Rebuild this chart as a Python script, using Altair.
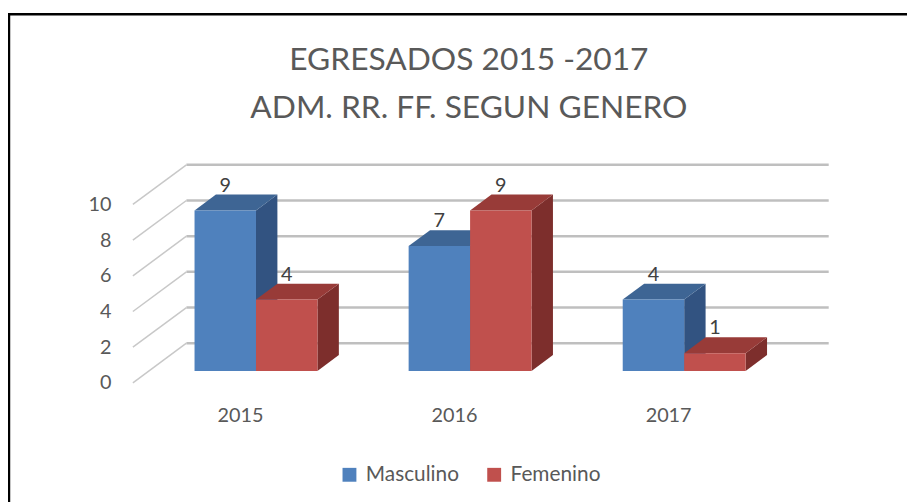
import altair as alt
import pandas as pd

# ---- data ----
years = ["2015", "2016", "2017"]
series = ["Masculino", "Femenino"]
masculino = [9, 7, 4]
femenino = [4, 9, 1]
y_ticks = [0, 2, 4, 6, 8, 10]
title_lines = ["EGRESADOS 2015 -2017", "ADM. RR. FF. SEGUN GENERO"]

# ---- geometry of the pseudo-3D projection (styling, not data) ----
PX = 216.0      # pixels per category
PY = 18.0       # pixels per value unit
SKEW = 1.35     # horizontal px per vertical px of depth
FLOOR_D = 40    # floor depth (vertical px)
BAR_F = 12      # bar front plane depth
BAR_D = 16      # bar depth
BAR_W = 62 / PX

def ddx(p):
    return p * SKEW / PX

def ddy(p):
    return p / PY

X_DOM = [-0.5, 2.5 + ddx(FLOOR_D)]
Y_DOM = [0, 10 + ddy(FLOOR_D)]
W = round((X_DOM[1] - X_DOM[0]) * PX)
H = round((Y_DOM[1] - Y_DOM[0]) * PY)

front, top, side, labels = [], [], [], []
for s_idx, (sname, vals) in enumerate(zip(series, [masculino, femenino])):
    for i, (yr, v) in enumerate(zip(years, vals)):
        xs = i + ddx(BAR_F) + (-BAR_W if s_idx == 0 else 0)
        xe = xs + BAR_W
        y0 = ddy(BAR_F)
        y1 = v + ddy(BAR_F)
        key = f"{sname}-{yr}"
        front.append(dict(serie=sname, year=yr, x=xs, x2=xe, y=y0, y2=y1))
        top.append(dict(serie=sname, key=key, y=y1, x=xs, x2=xe))
        top.append(dict(serie=sname, key=key, y=y1 + ddy(BAR_D),
                        x=xs + ddx(BAR_D), x2=xe + ddx(BAR_D)))
        side.append(dict(serie=sname, key=key, x=xe, y=y0, y2=y1))
        side.append(dict(serie=sname, key=key, x=xe + ddx(BAR_D),
                         y=y0 + ddy(BAR_D), y2=y1 + ddy(BAR_D)))
        labels.append(dict(serie=sname, x=(xs + xe) / 2, y=y1 + ddy(BAR_D), v=v))

front_df = pd.DataFrame(front)
top_df = pd.DataFrame(top)
side_df = pd.DataFrame(side)
lab_df = pd.DataFrame(labels)

grid_df = pd.DataFrame([dict(x=-0.5 + ddx(FLOOR_D), x2=2.5 + ddx(FLOOR_D),
                             y=t + ddy(FLOOR_D)) for t in y_ticks])
diag_df = pd.DataFrame([dict(x=-0.5, x2=-0.5 + ddx(FLOOR_D), y=t,
                             y2=t + ddy(FLOOR_D)) for t in y_ticks])

FRONT_COL = ["#4F81BD", "#C0504D"]
TOP_COL = ["#3E6594", "#983B38"]
SIDE_COL = ["#325381", "#7D2E2C"]
TEXT_COL = "#595959"
FONT = "Lato"

xs_scale = alt.Scale(domain=X_DOM, nice=False, zero=False)
ys_scale = alt.Scale(domain=Y_DOM, nice=False, zero=False)

year_expr = "[" + ",".join(f"'{y}'" for y in years) + "][datum.value]"

x_axis = alt.Axis(values=[0, 1, 2], labelExpr=year_expr, title=None,
                  domain=False, ticks=False, grid=False,
                  labelFontSize=20, labelColor=TEXT_COL,
                  labelFont=FONT, labelPadding=23)
y_axis = alt.Axis(values=y_ticks, title=None, domain=False,
                  ticks=False, grid=False, labelFontSize=20,
                  labelColor=TEXT_COL, labelFont=FONT, labelPadding=22)

FRAME_TOP = -152

frame = alt.Chart(pd.DataFrame({"a": [0]})).mark_rect(
    fill="white", fillOpacity=0, stroke="black", strokeWidth=2.5
).encode(x=alt.value(-125), x2=alt.value(W + 200),
         y=alt.value(FRAME_TOP), y2=alt.value(H + 300))

grid = alt.Chart(grid_df).mark_rule(color="#BFBFBF", strokeWidth=2.5).encode(
    x=alt.X("x:Q", scale=xs_scale, axis=x_axis),
    x2="x2:Q",
    y=alt.Y("y:Q", scale=ys_scale, axis=y_axis),
)
diag = alt.Chart(diag_df).mark_rule(color="#C8C8C8", strokeWidth=1.5).encode(
    x=alt.X("x:Q", scale=xs_scale, axis=x_axis),
    x2="x2:Q",
    y=alt.Y("y:Q", scale=ys_scale, axis=y_axis),
    y2="y2:Q",
)

layers = [frame, grid, diag]
for s_idx, sname in enumerate(series):
    sd = side_df[side_df.serie == sname]
    td = top_df[top_df.serie == sname]
    fd = front_df[front_df.serie == sname]
    layers.append(
        alt.Chart(sd).mark_area(orient="vertical", color=SIDE_COL[s_idx]).encode(
            x=alt.X("x:Q", scale=xs_scale, axis=x_axis),
            y=alt.Y("y:Q", scale=ys_scale, axis=y_axis, stack=False),
            y2="y2:Q",
            detail="key:N",
        )
    )
    layers.append(
        alt.Chart(td).mark_area(orient="horizontal", color=TOP_COL[s_idx]).encode(
            y=alt.Y("y:Q", scale=ys_scale, axis=y_axis),
            x=alt.X("x:Q", scale=xs_scale, axis=x_axis, stack=False),
            x2="x2:Q",
            detail="key:N",
        )
    )
    layers.append(
        alt.Chart(fd).mark_rect().encode(
            x=alt.X("x:Q", scale=xs_scale, axis=x_axis),
            x2="x2:Q",
            y=alt.Y("y:Q", scale=ys_scale, axis=y_axis),
            y2="y2:Q",
            color=alt.Color("serie:N",
                            scale=alt.Scale(domain=series, range=FRONT_COL),
                            legend=alt.Legend(
                                title=None, orient="none", direction="horizontal",
                                legendX=208, legendY=302, symbolType="square",
                                symbolSize=196, symbolStrokeWidth=0,
                                labelFontSize=21, labelFont=FONT,
                                labelColor=TEXT_COL, columnPadding=24,
                                labelOffset=6, padding=0)),
        )
    )

text = alt.Chart(lab_df).mark_text(
    baseline="bottom", fontSize=20, font=FONT, color="#404040", dy=1
).encode(
    x=alt.X("x:Q", scale=xs_scale, axis=x_axis),
    y=alt.Y("y:Q", scale=ys_scale, axis=y_axis),
    text="v:Q",
)
layers.append(text)

chart = alt.layer(*layers).properties(
    width=W,
    height=H,
    autosize=alt.AutoSizeParams(type="none"),
    padding={"left": 126, "top": 156, "right": 907 - 126 - W, "bottom": 494 - 156 - H},
    background="white",
    title=alt.TitleParams(title_lines, fontSize=32, font=FONT, fontWeight="normal",
                          color=TEXT_COL, anchor="middle", frame="group",
                          dx=-12, offset=-113, lineHeight=48),
).configure_view(stroke=None)

chart.save("out.html", embed_options={"renderer": "svg", "actions": False})
